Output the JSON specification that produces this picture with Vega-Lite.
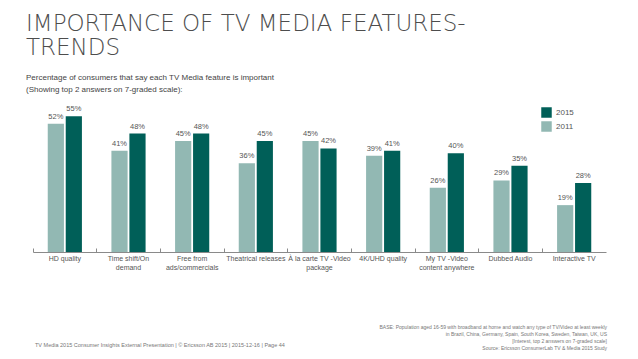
{
  "$schema": "https://vega.github.io/schema/vega-lite/v6.json",
  "width": 573,
  "height": 148,
  "autosize": {"type": "none"},
  "padding": {"left": 33, "top": 104, "right": 32, "bottom": 107},
  "background": "white",
  "config": {"view": {"stroke": null}},
  "title": {
    "text": ["IMPORTANCE OF TV MEDIA FEATURES-", "TRENDS"],
    "subtitle": ["Percentage of consumers that say each TV Media feature is important", "(Showing top 2 answers on 7-graded scale):"],
    "anchor": "start",
    "frame": "group",
    "font": "DejaVu Sans",
    "fontWeight": 200,
    "fontSize": 23,
    "lineHeight": 24,
    "color": "#4d4d4d",
    "subtitleFont": "Liberation Sans",
    "subtitleFontSize": 8,
    "subtitleColor": "#444444",
    "subtitleLineHeight": 12,
    "subtitlePadding": 14,
    "offset": 10,
    "dx": -7
  },
  "data": {
    "values": [
      {"feature": "HD quality", "year": "2011", "share": 0.52},
      {"feature": "HD quality", "year": "2015", "share": 0.55},
      {"feature": "Time shift/On demand", "year": "2011", "share": 0.41},
      {"feature": "Time shift/On demand", "year": "2015", "share": 0.48},
      {"feature": "Free from ads/commercials", "year": "2011", "share": 0.45},
      {"feature": "Free from ads/commercials", "year": "2015", "share": 0.48},
      {"feature": "Theatrical releases", "year": "2011", "share": 0.36},
      {"feature": "Theatrical releases", "year": "2015", "share": 0.45},
      {"feature": "À la carte TV -Video package", "year": "2011", "share": 0.45},
      {"feature": "À la carte TV -Video package", "year": "2015", "share": 0.42},
      {"feature": "4K/UHD quality", "year": "2011", "share": 0.39},
      {"feature": "4K/UHD quality", "year": "2015", "share": 0.41},
      {"feature": "My TV -Video content anywhere", "year": "2011", "share": 0.26},
      {"feature": "My TV -Video content anywhere", "year": "2015", "share": 0.40},
      {"feature": "Dubbed Audio", "year": "2011", "share": 0.29},
      {"feature": "Dubbed Audio", "year": "2015", "share": 0.35},
      {"feature": "Interactive TV", "year": "2011", "share": 0.19},
      {"feature": "Interactive TV", "year": "2015", "share": 0.28}
    ]
  },
  "encoding": {
    "x": {
      "field": "feature",
      "type": "nominal",
      "sort": null,
      "scale": {"paddingInner": 0, "paddingOuter": 0},
      "axis": {
        "title": null,
        "labelAngle": 0,
        "labelFont": "Liberation Sans",
        "labelFontSize": 7,
        "labelColor": "#555555",
        "labelLineHeight": 9,
        "labelPadding": 6,
        "domainColor": "#8a8a8a",
        "tickColor": "#8a8a8a",
        "tickSize": -4,
        "bandPosition": 0,
        "labelBound": false,
        "labelOverlap": false,
        "labelExpr": "datum.value == 'Time shift/On demand' ? ['Time shift/On', 'demand'] : datum.value == 'Free from ads/commercials' ? ['Free from', 'ads/commercials'] : datum.value == 'À la carte TV -Video package' ? ['À la carte TV -Video', 'package'] : datum.value == 'My TV -Video content anywhere' ? ['My TV -Video', 'content anywhere'] : datum.value"
      }
    },
    "xOffset": {
      "field": "year",
      "type": "nominal",
      "sort": ["2011", "2015"],
      "scale": {"paddingInner": 0.1, "paddingOuter": 0.82}
    },
    "y": {
      "field": "share",
      "type": "quantitative",
      "scale": {"domain": [0, 0.6]},
      "axis": null
    }
  },
  "layer": [
    {
      "mark": {"type": "bar"},
      "encoding": {
        "color": {
          "field": "year",
          "type": "nominal",
          "scale": {"domain": ["2015", "2011"], "range": ["#005f58", "#92b8b3"]},
          "legend": {
            "orient": "none",
            "legendX": 508,
            "legendY": 3,
            "title": null,
            "symbolType": "square",
            "symbolSize": 110,
            "symbolStrokeWidth": 0,
            "labelFont": "Liberation Sans",
            "labelFontSize": 8,
            "labelColor": "#555555",
            "rowPadding": 3
          }
        }
      }
    },
    {
      "mark": {"type": "text", "baseline": "bottom", "dy": -3, "font": "Liberation Sans", "fontSize": 7.5, "color": "#555555"},
      "encoding": {
        "text": {"field": "share", "type": "quantitative", "format": ".0%"}
      }
    },
    {
      "data": {"values": [{"note": "TV Media 2015 Consumer Insights External Presentation  |  © Ericsson AB 2015  |  2015-12-16  |  Page 44"}]},
      "mark": {"type": "text", "align": "left", "baseline": "middle", "x": 2, "y": 241, "font": "Liberation Sans", "fontSize": 5.5, "color": "#777777"},
      "encoding": {"text": {"field": "note", "type": "nominal"}, "x": null, "xOffset": null, "y": null}
    },
    {
      "data": {"values": [{"note": "base"}]},
      "mark": {
        "type": "text",
        "align": "right",
        "baseline": "middle",
        "x": 574,
        "y": 223,
        "lineHeight": 7,
        "font": "Liberation Sans",
        "fontSize": 5,
        "color": "#777777",
        "text": [
          "BASE: Population aged 16-59 with broadband at home and watch any type of TV/Video at least weekly",
          "in Brazil, China, Germany, Spain, South Korea, Sweden, Taiwan, UK, US",
          "[Interest, top 2 answers on 7-graded scale]",
          "Source: Ericsson ConsumerLab TV & Media 2015 Study"
        ]
      },
      "encoding": {"x": null, "xOffset": null, "y": null}
    }
  ]
}
